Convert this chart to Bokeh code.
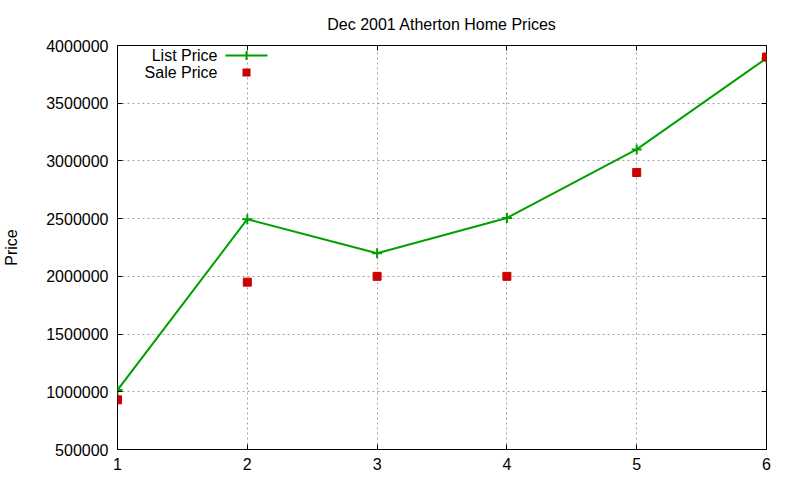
from bokeh.plotting import figure
from bokeh.models import (Range1d, SingleIntervalTicker, BasicTickFormatter, LinearAxis,
                          CustomJSTickFormatter, Label, BoxAnnotation)
from bokeh.embed import file_html
from bokeh.resources import INLINE

# ---- data ----
houses = [1, 2, 3, 4, 5, 6]
list_price = [1015000, 2495000, 2200000, 2505000, 3100000, 3890000]
sale_price = [930000, 1950000, 2000000, 2000000, 2900000, 3900000]
series_names = ["List Price", "Sale Price"]
title_text = "Dec 2001 Atherton Home Prices"
y_label = "Price"

GREEN = "#00a000"
RED = "#cc0000"
FONT = "Liberation Sans"

p = figure(width=784, height=472, output_backend="svg", toolbar_location=None,
           x_range=Range1d(1, 6), y_range=Range1d(500000, 4000000),
           min_border_left=111, min_border_right=18, min_border_top=45, min_border_bottom=23)

p.title.text = title_text
p.title.align = "center"
p.title.text_font = FONT
p.title.text_font_size = "16px"
p.title.text_font_style = "normal"
p.title.text_color = "black"
p.title.standoff = 18

p.outline_line_color = "black"
p.outline_line_width = 1
p.outline_line_alpha = 1
p.background_fill_color = "white"
p.border_fill_color = "white"

xt = SingleIntervalTicker(interval=1)
yt = SingleIntervalTicker(interval=500000)
p.xaxis.ticker = xt
p.yaxis.ticker = yt
p.yaxis.formatter = BasicTickFormatter(use_scientific=False)
p.yaxis.axis_label = y_label
p.yaxis.axis_label_standoff = 23
p.yaxis.axis_label_text_font = FONT
p.yaxis.axis_label_text_font_size = "16px"
p.yaxis.axis_label_text_font_style = "normal"
p.yaxis.axis_label_text_color = "black"

for ax in (p.xaxis, p.yaxis):
    ax.axis_line_color = None
    ax.major_tick_in = 5
    ax.major_tick_out = 0
    ax.minor_tick_line_color = None
    ax.major_tick_line_color = "black"
    ax.major_label_text_font = FONT
    ax.major_label_text_font_size = "16px"
    ax.major_label_text_color = "black"
p.xaxis.major_label_standoff = 4
p.yaxis.major_label_standoff = 5

# mirrored ticks
empty = CustomJSTickFormatter(code="return ''")
for loc, tk in (("right", yt), ("above", xt)):
    ax = LinearAxis(ticker=tk, formatter=empty, axis_line_color=None, major_tick_in=5,
                    major_tick_out=0, minor_tick_line_color=None, major_label_standoff=0,
                    major_label_text_font_size="1px")
    p.add_layout(ax, loc)

p.grid.grid_line_color = "#a0a0a0"
p.grid.grid_line_dash = "2 3"
p.grid.grid_line_width = 1
p.xgrid.ticker = xt
p.ygrid.ticker = yt

p.line(houses, list_price, line_color=GREEN, line_width=2)
p.scatter(houses, list_price, marker="cross", size=10, line_color=GREEN, line_width=2)
p.scatter(houses, sale_price, marker="square", size=8, fill_color=RED, line_color=RED)

# gnuplot-style key (label, then sample), in screen units relative to the frame
p.add_layout(Label(x=100, y=394, x_units="screen", y_units="screen", text=series_names[0],
                   text_align="right", text_baseline="middle", text_font=FONT,
                   text_font_size="16px", text_color="black"))
p.add_layout(Label(x=100, y=377, x_units="screen", y_units="screen", text=series_names[1],
                   text_align="right", text_baseline="middle", text_font=FONT,
                   text_font_size="16px", text_color="black"))
p.add_layout(BoxAnnotation(left=108, right=150, bottom=393, top=395,
                           left_units="screen", right_units="screen",
                           bottom_units="screen", top_units="screen",
                           fill_color=GREEN, fill_alpha=1, line_color=None))
p.add_layout(BoxAnnotation(left=128, right=130, bottom=389.5, top=398.5,
                           left_units="screen", right_units="screen",
                           bottom_units="screen", top_units="screen",
                           fill_color=GREEN, fill_alpha=1, line_color=None))
p.add_layout(BoxAnnotation(left=125, right=133, bottom=373, top=381,
                           left_units="screen", right_units="screen",
                           bottom_units="screen", top_units="screen",
                           fill_color=RED, fill_alpha=1, line_color=None))

open("out.html", "w").write(file_html(p, INLINE))
